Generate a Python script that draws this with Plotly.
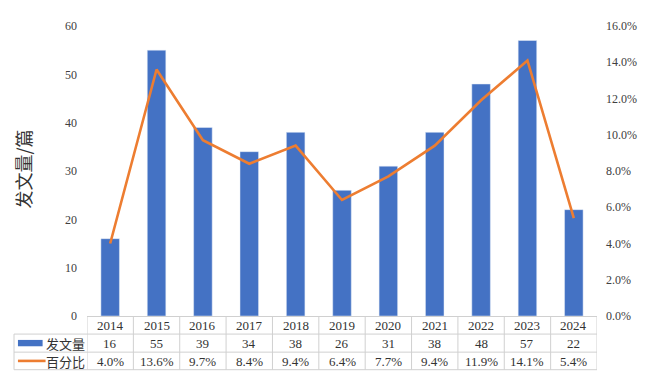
import plotly.graph_objects as go

years = ["2014", "2015", "2016", "2017", "2018", "2019", "2020", "2021", "2022", "2023", "2024"]
counts = [16, 55, 39, 34, 38, 26, 31, 38, 48, 57, 22]
percents = [4.0, 13.6, 9.7, 8.4, 9.4, 6.4, 7.7, 9.4, 11.9, 14.1, 5.4]
left_ticks = [0, 10, 20, 30, 40, 50, 60]
right_ticks = [0, 2, 4, 6, 8, 10, 12, 14, 16]
series_names = ["发文量", "百分比"]
y_title = "发文量/篇"

BLUE = "#4472C4"
ORANGE = "#ED7D31"
GRID = "#d0d0d0"
TXT = "#404040"
SERIF = "Liberation Serif, Times New Roman, serif"
CJK = "Noto Sans CJK SC"

# page body has an 8px default margin; work in window pixels and compensate
OFF = 8
WIN_W, WIN_H = 648, 372
W, H = WIN_W - OFF, WIN_H - OFF
PLOT_L, PLOT_R, PLOT_T, PLOT_B = 87, 604, 19, 316  # window pixels
L = PLOT_L - OFF
T = PLOT_T - OFF
R = W - (PLOT_R - OFF)
B = H - (PLOT_B - OFF)
plot_h = PLOT_B - PLOT_T
plot_w = PLOT_R - PLOT_L


def py(pixel):
    return (PLOT_B - pixel) / plot_h


def px(pixel):
    return (pixel - PLOT_L) / plot_w


fig = go.Figure()
fig.add_trace(go.Bar(x=years, y=counts, name=series_names[0], marker_color=BLUE,
                     yaxis="y"))
fig.add_trace(go.Scatter(x=years, y=[p / 100 for p in percents], name=series_names[1],
                         mode="lines", line=dict(color=ORANGE, width=2.6), yaxis="y2"))

shapes = []
annotations = []
row_lines = [334.5, 353, 371]
table_bottom = py(371)
for i in range(len(years) + 1):
    shapes.append(dict(type="line", xref="x", yref="paper", x0=i - 0.5, x1=i - 0.5,
                       y0=0, y1=table_bottom, line=dict(color=GRID, width=1)))
for rp in row_lines:
    shapes.append(dict(type="line", xref="x", yref="paper", x0=-0.5, x1=len(years) - 0.5,
                       y0=py(rp), y1=py(rp), line=dict(color=GRID, width=1)))
shapes.append(dict(type="line", xref="paper", yref="paper", x0=px(13), x1=px(13),
                   y0=py(334.5), y1=table_bottom, line=dict(color=GRID, width=1)))
for rp in row_lines:
    shapes.append(dict(type="line", xref="paper", yref="paper", x0=px(13), x1=0,
                       y0=py(rp), y1=py(rp), line=dict(color=GRID, width=1)))
shapes.append(dict(type="rect", xref="paper", yref="paper", x0=px(17), x1=px(42),
                   y0=py(347), y1=py(340.5), fillcolor=BLUE, line=dict(width=0)))
shapes.append(dict(type="line", xref="paper", yref="paper", x0=px(17), x1=px(45),
                   y0=py(362), y1=py(362), line=dict(color=ORANGE, width=2.6)))

row_centers = [325.5, 344, 362.5]
font_cell = dict(family=SERIF, size=13, color="#333")
for i, yr in enumerate(years):
    annotations.append(dict(x=i, xref="x", y=py(row_centers[0]), yref="paper", text=yr,
                            xanchor="center", yanchor="middle", showarrow=False, font=font_cell))
    annotations.append(dict(x=i, xref="x", y=py(row_centers[1]), yref="paper",
                            text=str(counts[i]), xanchor="center", yanchor="middle",
                            showarrow=False, font=font_cell))
    annotations.append(dict(x=i, xref="x", y=py(row_centers[2]), yref="paper",
                            text=f"{percents[i]:.1f}%", xanchor="center", yanchor="middle",
                            showarrow=False, font=font_cell))
for name, rc in zip(series_names, row_centers[1:]):
    annotations.append(dict(x=px(65.5), xref="paper", y=py(rc), yref="paper", text=name,
                            xanchor="center", yanchor="middle", showarrow=False,
                            font=dict(family=CJK, size=13, color="#333")))
annotations.append(dict(x=px(22), xref="paper", y=py(165), yref="paper", text=y_title,
                        textangle=-90, xanchor="center", yanchor="middle", showarrow=False,
                        font=dict(family=CJK, size=18, color="#333")))

fig.update_layout(
    width=W, height=H,
    margin=dict(l=L, r=R, t=T, b=B, pad=0),
    paper_bgcolor="white", plot_bgcolor="white",
    showlegend=False,
    bargap=0.6,
    xaxis=dict(type="category", showticklabels=False, ticks="", showgrid=False,
               showline=True, linecolor=GRID, linewidth=1, zeroline=False,
               range=[-0.5, len(years) - 0.5]),
    yaxis=dict(range=[0, 60], tickvals=left_ticks, showgrid=False, zeroline=False,
               showline=False, ticks="", ticklabelstandoff=9,
               tickfont=dict(family=SERIF, size=12, color=TXT)),
    yaxis2=dict(range=[0, 0.16], tickvals=[t / 100 for t in right_ticks], tickformat=".1%",
                overlaying="y", side="right", showgrid=False, zeroline=False,
                showline=False, ticks="", ticklabelstandoff=8,
                tickfont=dict(family=SERIF, size=12, color=TXT)),
    shapes=shapes,
    annotations=annotations,
)

fig.write_html("out.html")
